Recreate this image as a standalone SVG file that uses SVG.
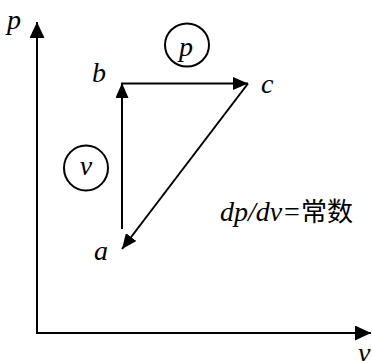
<svg xmlns="http://www.w3.org/2000/svg" width="372" height="361" viewBox="0 0 372 361">
  <style>
    .ln { stroke: #000; stroke-width: 2; fill: none; }
    .lbl { font-family: "Liberation Serif", "Times New Roman", serif; font-style: italic; font-size: 28px; fill: #000; }
    .cn { font-family: "Noto Sans CJK SC", sans-serif; font-style: normal; }
    .ring { stroke: #000; stroke-width: 2; fill: none; }
  </style>
  <defs>
    <marker id="ah" markerUnits="userSpaceOnUse" markerWidth="15" markerHeight="13" refX="15" refY="6.5" orient="auto">
      <path d="M0,0 L15,6.5 L0,13 z" fill="#000"/>
    </marker>
    <marker id="axh" markerUnits="userSpaceOnUse" markerWidth="16" markerHeight="15" refX="16" refY="7.5" orient="auto">
      <path d="M0,0 L16,7.5 L0,15 z" fill="#000"/>
    </marker>
  </defs>
  <rect width="372" height="361" fill="#fff"/>
  <g id="axes">
    <line class="ln" x1="37" y1="333" x2="37" y2="22" marker-end="url(#axh)"/>
    <line class="ln" x1="36" y1="333" x2="371" y2="333" marker-end="url(#axh)"/>
    <text class="lbl" x="7" y="29">p</text>
    <text class="lbl" x="358" y="362">v</text>
  </g>
  <g id="connectors">
    <line class="ln" x1="122" y1="229" x2="122" y2="83" marker-end="url(#ah)"/>
    <line class="ln" x1="121" y1="83.5" x2="248" y2="83.5" marker-end="url(#ah)"/>
    <line class="ln" x1="248" y1="83.5" x2="122" y2="249" marker-end="url(#ah)"/>
  </g>
  <g id="node-a"><text class="lbl" x="94" y="260">a</text></g>
  <g id="node-b"><text class="lbl" x="92" y="82">b</text></g>
  <g id="node-c"><text class="lbl" x="261" y="93">c</text></g>
  <g id="process-p">
    <ellipse class="ring" cx="187" cy="45" rx="22" ry="21.5"/>
    <text class="lbl" x="186" y="56" text-anchor="middle" font-size="26">p</text>
  </g>
  <g id="process-v">
    <ellipse class="ring" cx="86" cy="168" rx="22" ry="22.5"/>
    <text class="lbl" x="86" y="175" text-anchor="middle" font-size="24">v</text>
  </g>
  <g id="note">
    <text class="lbl" x="220" y="221" font-size="27">dp/dv=<tspan class="cn" font-size="26">常数</tspan></text>
  </g>
</svg>
